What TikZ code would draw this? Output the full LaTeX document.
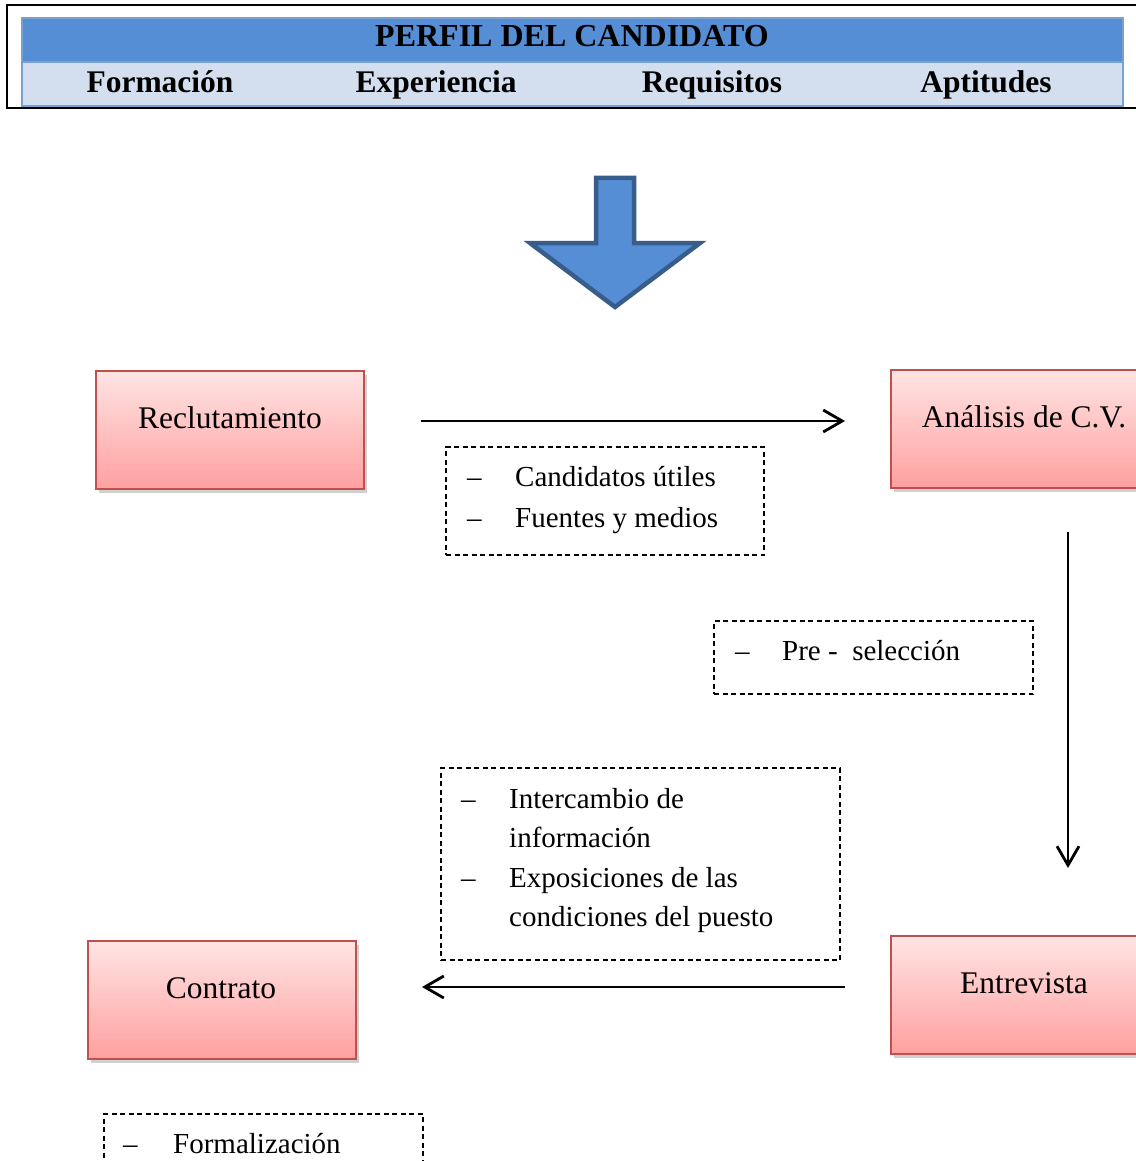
\documentclass[tikz,border=0pt]{standalone}
\usepackage{fontspec}
\setmainfont{Liberation Serif}
\usetikzlibrary{arrows.meta,shadows}
\definecolor{hdrblue}{RGB}{85,142,213}
\definecolor{hdrlight}{RGB}{211,223,238}
\definecolor{hdredge}{RGB}{122,160,208}
\definecolor{arrowfill}{RGB}{85,142,213}
\definecolor{arrowedge}{RGB}{56,93,138}
\definecolor{redtop}{RGB}{255,228,228}
\definecolor{redbot}{RGB}{255,160,160}
\definecolor{rededge}{RGB}{192,80,77}
\begin{document}
\begin{tikzpicture}[x=1pt,y=-1pt,
  hdrbar/.style={draw=hdredge, line width=2pt, inner sep=0pt, outer sep=0pt, anchor=north west, minimum width=1101pt, minimum height=44pt},
  hdrtxt/.style={font=\fontsize{31.5}{37}\selectfont\bfseries, inner sep=0pt, anchor=base},
  redbox/.style={draw=rededge, line width=2pt, top color=redtop, bottom color=redbot, inner sep=0pt, outer sep=0pt, anchor=north west, minimum width=268pt, minimum height=118pt,
    drop shadow={shadow xshift=3pt, shadow yshift=-4pt, opacity=0.3, fill=black!60}},
  boxtxt/.style={font=\fontsize{31.5}{37}\selectfont, inner sep=0pt, anchor=base},
  dbox/.style={draw, line width=1.3pt, dash pattern=on 5pt off 3.5pt, inner sep=0pt, outer sep=0pt, anchor=north west},
  dtxt/.style={font=\fontsize{29}{35}\selectfont, inner sep=0pt, anchor=base west},
  flow/.style={line width=2.8pt, -{Straight Barb[length=19pt,width=22pt,line width=2.8pt]}},
  bigarrow/.style={draw=arrowedge, fill=arrowfill, line width=4.5pt, line join=miter}
]
\useasboundingbox (0,0) rectangle (1135,1161);
\fill[white] (0,0) rectangle (1135,1161);

% header table
\draw[line width=2pt] (1145,5) -- (7,5) -- (7,108) -- (1145,108);
\node[hdrbar, fill=hdrblue] (title) at (22,18) {};
\node[hdrbar, fill=hdrlight] (sub) at (22,62) {};
\node[hdrtxt, font=\fontsize{32}{37}\selectfont\bfseries] (titletxt) at (572,47) {PERFIL DEL CANDIDATO};
\node[hdrtxt] (h1) at (160,93) {Formación};
\node[hdrtxt] (h2) at (436,93) {Experiencia};
\node[hdrtxt] (h3) at (712,93) {Requisitos};
\node[hdrtxt] (h4) at (986,93) {Aptitudes};

% big arrow
\draw[bigarrow] (596,178) -- (634,178) -- (634,243) -- (700,243) -- (615,307) -- (530,243) -- (596,243) -- cycle;

% red boxes
\node[redbox] (recl) at (96,371) {};
\node[boxtxt] (recltxt) at (230,428) {Reclutamiento};
\node[redbox] (anal) at (891,370) {};
\node[boxtxt] (analtxt) at (1024,427) {Análisis de C.V.};
\node[redbox] (entr) at (891,936) {};
\node[boxtxt] (entrtxt) at (1024,993) {Entrevista};
\node[redbox] (cont) at (88,941) {};
\node[boxtxt] (conttxt) at (221,998) {Contrato};

% connectors
\coordinate (a1s) at (421,421);
\coordinate (a1e) at (845,421);
\draw[flow] (a1s) -- (a1e);
\coordinate (a2s) at (1068,532);
\coordinate (a2e) at (1068,868);
\draw[flow] (a2s) -- (a2e);
\coordinate (a3s) at (845,987);
\coordinate (a3e) at (422,987);
\draw[flow] (a3s) -- (a3e);

% dashed boxes
\node[dbox, minimum width=318pt, minimum height=108pt] (d1) at (446,447) {};
\node[dtxt] (d1a) at (467,486) {–};
\node[dtxt] (d1b) at (515,486) {Candidatos útiles};
\node[dtxt] (d1c) at (467,527) {–};
\node[dtxt] (d1d) at (515,527) {Fuentes y medios};

\node[dbox, minimum width=319pt, minimum height=73pt] (d2) at (714,621) {};
\node[dtxt] (d2a) at (735,660) {–};
\node[dtxt] (d2b) at (782,660) {Pre -\ \ selección};

\node[dbox, minimum width=399pt, minimum height=192pt] (d3) at (441,768) {};
\node[dtxt] (d3a) at (461,808) {–};
\node[dtxt] (d3b) at (509,808) {Intercambio de};
\node[dtxt] (d3c) at (509,847) {información};
\node[dtxt] (d3d) at (461,887) {–};
\node[dtxt] (d3e) at (509,887) {Exposiciones de las};
\node[dtxt] (d3f) at (509,926) {condiciones del puesto};

\node[dbox, minimum width=319pt, minimum height=80pt] (d4) at (104,1114) {};
\node[dtxt] (d4a) at (123,1153) {–};
\node[dtxt] (d4b) at (173,1153) {Formalización};
\end{tikzpicture}
\end{document}
